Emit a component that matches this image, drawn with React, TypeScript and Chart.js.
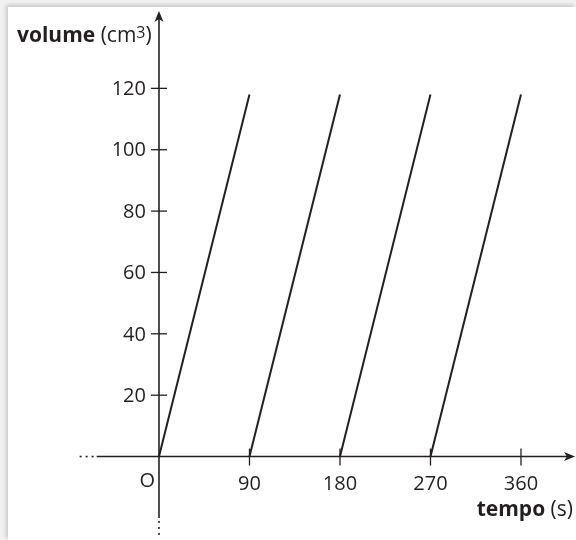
import React, { useEffect, useRef } from "react";
import { Chart, registerables } from "chart.js";

Chart.register(...registerables);

// Data
const X_TICKS = [90, 180, 270, 360];
const Y_TICKS = [20, 40, 60, 80, 100, 120];
const FILL_STARTS = [0, 90, 180, 270]; // tempo (s) at which each filling starts
const FILL_ENDS = [90, 180, 270, 360]; // tempo (s) at which each filling ends
const FILL_TOP = [118, 118, 118, 118]; // volume (cm3) reached

const INK = "#231f20";
const FONT = "'Open Sans', 'Noto Sans', sans-serif";
const TICK_SIZE = 20;
const TITLE_SIZE = 21;

function drawMixed(ctx: CanvasRenderingContext2D, parts: { t: string; bold?: boolean; sup?: boolean }[], x: number, y: number, align: "left" | "right") {
  const fontOf = (p: any) => `${p.bold ? "bold " : ""}${p.sup ? Math.round(TITLE_SIZE * 0.78) : TITLE_SIZE}px ${FONT}`;
  let total = 0;
  const widths = parts.map((p) => {
    ctx.font = fontOf(p);
    const w = ctx.measureText(p.t).width;
    total += w;
    return w;
  });
  let cx = align === "left" ? x : x - total;
  ctx.textAlign = "left";
  ctx.textBaseline = "alphabetic";
  parts.forEach((p, i) => {
    ctx.font = fontOf(p);
    ctx.fillText(p.t, cx, p.sup ? y - 4 : y);
    cx += widths[i];
  });
}

const axesPlugin = {
  id: "customAxes",
  afterDatasetsDraw(chart: any) {
    const { ctx } = chart;
    const xs = chart.scales.x;
    const ys = chart.scales.y;
    const ox = xs.getPixelForValue(0);
    const oy = ys.getPixelForValue(0);
    ctx.save();
    ctx.strokeStyle = INK;
    ctx.fillStyle = INK;
    ctx.lineWidth = 1.6;

    // x axis
    const xTip = 575;
    const xSolidStart = xs.getPixelForValue(-62);
    ctx.beginPath();
    ctx.moveTo(xSolidStart, oy);
    ctx.lineTo(xTip - 6, oy);
    ctx.stroke();
    for (let i = 0; i < 3; i++) {
      ctx.fillRect(xSolidStart - 5 - i * 6, oy - 0.8, 2, 1.6);
    }
    ctx.beginPath();
    ctx.moveTo(xTip, oy);
    ctx.lineTo(xTip - 11, oy - 4.5);
    ctx.lineTo(xTip - 8, oy);
    ctx.lineTo(xTip - 11, oy + 4.5);
    ctx.closePath();
    ctx.fill();

    // y axis
    const yTip = 11;
    const ySolidEnd = ys.getPixelForValue(-20);
    ctx.beginPath();
    ctx.moveTo(ox, yTip + 6);
    ctx.lineTo(ox, ySolidEnd);
    ctx.stroke();
    for (let i = 0; i < 3; i++) {
      ctx.fillRect(ox - 0.8, ySolidEnd + 3 + i * 6, 1.6, 2);
    }
    ctx.beginPath();
    ctx.moveTo(ox, yTip);
    ctx.lineTo(ox - 4.5, yTip + 11);
    ctx.lineTo(ox, yTip + 8);
    ctx.lineTo(ox + 4.5, yTip + 11);
    ctx.closePath();
    ctx.fill();

    // ticks
    ctx.lineWidth = 1.3;
    X_TICKS.forEach((v) => {
      const px = xs.getPixelForValue(v);
      ctx.beginPath();
      ctx.moveTo(px, oy - 8);
      ctx.lineTo(px, oy + 9);
      ctx.stroke();
    });
    Y_TICKS.forEach((v) => {
      const py = ys.getPixelForValue(v);
      ctx.beginPath();
      ctx.moveTo(ox - 8, py);
      ctx.lineTo(ox + 8, py);
      ctx.stroke();
    });

    // tick labels
    ctx.font = `${TICK_SIZE}px ${FONT}`;
    ctx.textAlign = "center";
    ctx.textBaseline = "alphabetic";
    X_TICKS.forEach((v) => {
      ctx.fillText(String(v), xs.getPixelForValue(v), oy + 33);
    });
    ctx.textAlign = "right";
    ctx.fillText("O", ox - 4, oy + 30);
    ctx.textBaseline = "middle";
    Y_TICKS.forEach((v) => {
      ctx.fillText(String(v), ox - 13, ys.getPixelForValue(v) + 1);
    });

    // axis titles
    drawMixed(ctx, [{ t: "volume ", bold: true }, { t: "(cm" }, { t: "3", sup: true }, { t: ")" }], 17, 42, "left");
    drawMixed(ctx, [{ t: "tempo ", bold: true }, { t: "(s)" }], 573, 516, "right");

    ctx.restore();
  },
};

export default function App() {
  const ref = useRef<HTMLCanvasElement>(null);
  useEffect(() => {
    if (!ref.current) return;
    const datasets = FILL_STARTS.map((s, i) => ({
      data: [
        { x: s, y: 0 },
        { x: FILL_ENDS[i], y: FILL_TOP[i] },
      ],
      borderColor: INK,
      borderWidth: 2,
      pointRadius: 0,
      showLine: true,
      fill: false,
    }));
    const chart = new Chart(ref.current, {
      type: "scatter",
      data: { datasets },
      options: {
        animation: false,
        responsive: false,
        layout: { padding: 0 },
        plugins: { legend: { display: false }, tooltip: { enabled: false } },
        scales: {
          x: { type: "linear", min: -158.1, max: 414.7, display: false },
          y: { type: "linear", min: -27.2, max: 148.8, display: false },
        },
      },
      plugins: [axesPlugin],
    });
    return () => chart.destroy();
  }, []);
  return (
    <div style={{ position: "fixed", left: 0, top: 0, width: 576, height: 540, background: "#f1f1f2", overflow: "hidden" }}>
      <div style={{ position: "absolute", left: 8, top: 7, right: 0, bottom: 0, background: "#fff", boxShadow: "-2px -2px 4px rgba(0,0,0,0.18)" }} />
      <canvas ref={ref} width={576} height={540} style={{ position: "absolute", left: 0, top: 0, width: 576, height: 540 }} />
    </div>
  );
}
